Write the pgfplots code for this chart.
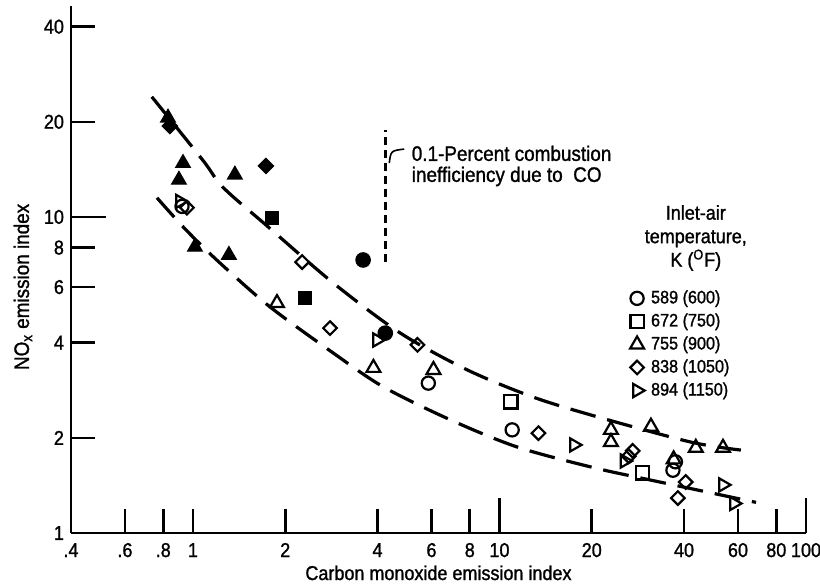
\documentclass[border=0pt]{standalone}
\usepackage{pgfplots}
\pgfplotsset{compat=1.18}
\usepackage{fontspec}
\setmainfont{Liberation Sans}[FakeStretch=0.9, FakeBold=1.2]

\pgfplotsset{
  opn/.style={only marks, black, mark options={line width=1.1pt, solid, fill=none}},
  fil/.style={only marks, black, mark options={line width=0.6pt, solid, fill=black}},
}

\begin{document}
\begin{tikzpicture}[font=\fontsize{10}{11}\selectfont]
\useasboundingbox (-35.5pt,-26.5pt) rectangle (374.5pt,266.5pt);
\begin{axis}[
  at={(0,0)}, anchor=south west,
  scale only axis, width=367.5pt, height=263.5pt,
  xmode=log, ymode=log,
  xmin=0.4, xmax=100, ymin=1, ymax=46.5,
  axis x line*=bottom, axis y line*=left,
  axis line style={line width=1.3pt},
  tick align=inside,
  major tick length=12pt,
  tick style={line width=1.3pt, black},
  minor tick style={draw=none},
  xtick={0.4,0.6,0.8,1,2,4,6,8,20,40,60,80},
  xticklabels={.4,.6,.8,1,2,4,6,8,20,40,60,80},
  extra x ticks={10,100},
  extra x tick labels={10,100},
  extra x tick style={major tick length=17.5pt},
  ytick={1,2,4,6,8,20,40},
  yticklabels={1,2,4,6,8,20,40},
  extra y ticks={10},
  extra y tick labels={10},
  extra y tick style={major tick length=17.5pt},
  xticklabel style={anchor=base, yshift=-12pt},
  yticklabel style={anchor=east},
  xlabel={Carbon monoxide emission index},
  xlabel style={at={(axis description cs:0.5,-0.0892)}, anchor=base},
  ylabel={NO\textsubscript{x} emission index},
  ylabel style={at={(axis description cs:-0.0653,0.467)}, anchor=center, font=\fontsize{10.5}{11}\selectfont},
  legend style={at={(axis cs:26.0,6.05)}, anchor=north west, draw=none, fill=none,
    inner sep=0pt, font=\fontsize{9}{10}\selectfont, row sep=-0.5pt,
    /tikz/every even column/.append style={column sep=21pt}},
  legend cell align=left,
  legend image code/.code={\draw[#1] plot coordinates {(0pt,0pt)}; \path[draw=none,fill=none] (-5pt,-3pt) rectangle (5pt,3pt);},
]
% dashed band curves
\addplot[smooth, line width=1.6pt, dash pattern=on 13pt off 6pt, forget plot] coordinates {
(0.734,24.0) (1.078,15.1) (1.254,12.4) (1.76,9.30) (2.87,6.18) (4.75,4.29) (7.86,3.28) (12.9,2.69) (20.9,2.33) (42.1,1.94) (61.3,1.83)};
\addplot[smooth, line width=1.6pt, dash pattern=on 13pt off 6pt, forget plot] coordinates {
(0.763,11.5) (0.949,9.1) (1.225,7.15) (1.785,5.19) (2.87,3.71) (4.18,2.90) (6.92,2.28) (11.45,1.87) (20.3,1.61) (31.2,1.47) (68.7,1.25)};
% 0.1-percent combustion inefficiency line
\addplot[line width=1.5pt, dash pattern=on 4pt off 2.5pt, forget plot] coordinates {(4.24,7.2) (4.24,18.9)};

% open symbols (legend)
\addplot[opn, mark=o, mark size=3.3pt] coordinates {
(0.921,10.8) (5.86,2.98) (11.0,2.12) (36.8,1.58) (37.5,1.68)};
\addlegendentry{589 (600)}
\addplot[opn, mark=square, mark size=3.3pt] coordinates {
(10.9,2.60) (29.3,1.55)};
\addlegendentry{672 (750)}
\addplot[opn, mark=triangle, mark size=4pt] coordinates {
(1.88,5.34) (3.88,3.33) (6.09,3.28) (23.1,2.12) (23.1,1.94) (31.2,2.17) (43.7,1.86) (53.6,1.86) (37.0,1.71)};
\addlegendentry{755 (900)}
\addplot[opn, mark=square, mark size=2.4pt, mark options={line width=1.1pt, solid, fill=none, rotate=45}] coordinates {
(0.956,10.7) (2.27,7.2) (2.80,4.45) (5.40,3.94) (13.4,2.07) (27.2,1.82) (26.4,1.75) (40.5,1.45) (38.2,1.29)};
\addlegendentry{838 (1050)}
\addplot[opn, mark=triangle, mark size=3.8pt, mark options={line width=1.1pt, solid, fill=none, rotate=-90}] coordinates {
(0.907,11.2) (3.99,4.08) (17.5,1.90) (25.6,1.69) (53.6,1.42) (58.2,1.24)};
\addlegendentry{894 (1150)}

% filled symbols
\addplot[fil, mark=triangle*, mark size=4.2pt, forget plot] coordinates {
(0.829,20.6) (0.928,14.8) (0.90,13.1) (1.015,8.04) (1.31,7.58) (1.37,13.6)};
\addplot[fil, mark=square*, mark size=2.7pt, mark options={line width=0.6pt, solid, fill=black, rotate=45}, forget plot] coordinates {
(0.841,19.4) (1.73,14.5)};
\addplot[fil, mark=square*, mark size=3.4pt, forget plot] coordinates {
(1.81,9.93) (2.32,5.54)};
\addplot[fil, mark=*, mark size=3.6pt, forget plot] coordinates {
(3.59,7.31) (4.24,4.29)};

% annotation
\draw[line width=0.8pt] (axis cs:4.37,14.8) .. controls (axis cs:4.42,16.2) .. (axis cs:4.89,16.4);
\node[anchor=west, align=left, inner sep=0pt, font=\fontsize{10.5}{10.5}\selectfont]
  at (axis cs:5.16,14.5) {0.1-Percent combustion\\inefficiency due to\ \ CO};
% legend title
\node[align=center, inner sep=0pt, font=\fontsize{10}{11.75}\selectfont]
  at (axis cs:43.7,8.58) {Inlet-air\\temperature,\\K (\textsuperscript{O}F)};
\end{axis}
\end{tikzpicture}
\end{document}
